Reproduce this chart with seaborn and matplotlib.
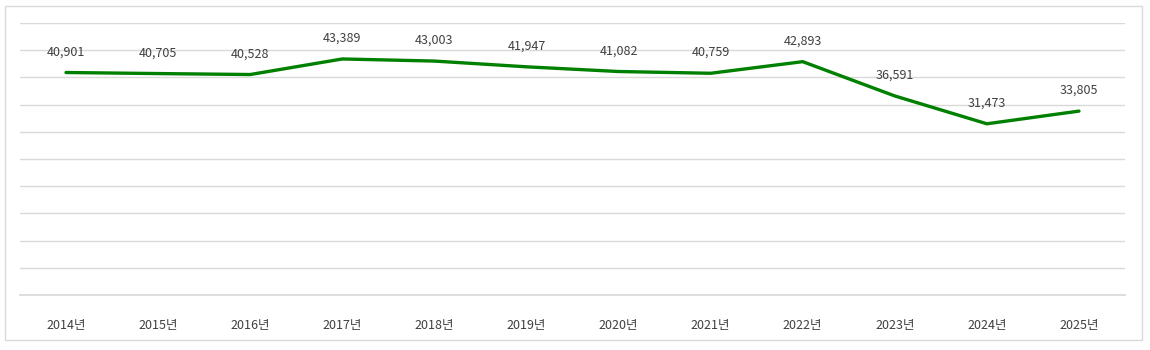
import matplotlib
matplotlib.use("Agg")
import matplotlib.pyplot as plt
import seaborn as sns
import pandas as pd
from matplotlib.patches import Rectangle

years = ["2014년", "2015년", "2016년", "2017년", "2018년", "2019년",
         "2020년", "2021년", "2022년", "2023년", "2024년", "2025년"]
values = [40901, 40705, 40528, 43389, 43003, 41947,
          41082, 40759, 42893, 36591, 31473, 33805]

df = pd.DataFrame({"year": years, "value": values})

sns.set_theme(style="white")
plt.rcParams['font.family'] = ['Noto Sans CJK KR', 'DejaVu Sans']

fig = plt.figure(figsize=(11.5, 3.5), dpi=100)
ax = fig.add_axes([20/1150, 1-295/350, 1105/1150, (295-23)/350])

sns.lineplot(data=df, x="year", y="value", ax=ax, color="#008000",
             linewidth=2.4, sort=False)

ax.set_xlim(-0.5, len(years) - 0.5)
ax.set_ylim(0, 50000)
ax.set_yticks(range(0, 50001, 5000))
ax.set_yticklabels([])
ax.tick_params(axis='y', length=0)
ax.tick_params(axis='x', length=0, pad=17, labelsize=9, labelcolor="#404040")
ax.grid(axis='y', color="#d9d9d9", linewidth=1)
ax.grid(axis='x', visible=False)
for s in ["top", "left", "right"]:
    ax.spines[s].set_visible(False)
ax.spines["bottom"].set_color("#d9d9d9")
ax.set_xlabel("")
ax.set_ylabel("")

for i, v in enumerate(values):
    ax.annotate(f"{v:,}", (i, v), xytext=(0, 15), textcoords="offset points",
                ha="center", va="center", fontsize=9, color="#404040")

fig.patches.append(Rectangle((5/1150, 1-340/350), 1137/1150, 334/350,
                             transform=fig.transFigure, fill=False,
                             edgecolor="#d9d9d9", linewidth=1))

fig.savefig("out.png", dpi=100)
